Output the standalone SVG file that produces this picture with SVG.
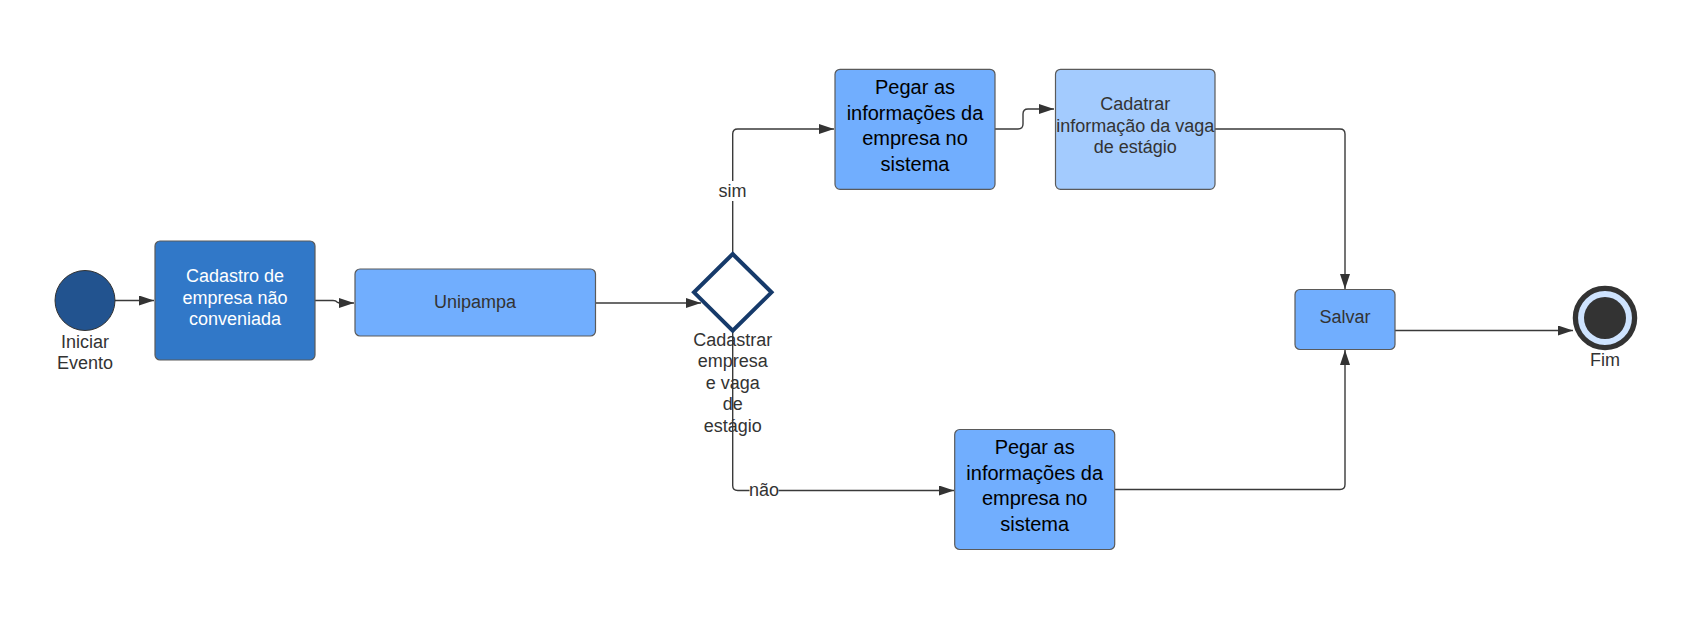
<svg xmlns="http://www.w3.org/2000/svg" width="1707" height="632" viewBox="0 0 1707 632">
<style>
.box{stroke:#5a5a5a;stroke-width:1.2}
.dark{fill:#3178C8}
.mid{fill:#71AEFE}
.light{fill:#A3CBFE}
.t{font-family:"Liberation Sans",Arial,sans-serif;font-size:18px;fill:#333;text-anchor:middle}
.tw{fill:#fff}
.tb{font-size:20px;fill:#000}
.ln{fill:none;stroke:#3a3a3a;stroke-width:1.4}
.lab{fill:#fff}
</style>
<defs>
<marker id="ah" markerUnits="userSpaceOnUse" markerWidth="16" markerHeight="12" refX="15" refY="5" orient="auto">
<path d="M0,0 L15,5 L0,10 z" fill="#333"/>
</marker>
</defs>
<rect width="1707" height="632" fill="#fff"/>
<g id="connectors">
<path class="ln" d="M115,300.5 H154" marker-end="url(#ah)"/>
<path class="ln" d="M315,300.5 H333 Q336,300.5 337,302 Q338,303 341,303 H354" marker-end="url(#ah)"/>
<path class="ln" d="M595.5,303 H701" marker-end="url(#ah)"/>
<path class="ln" d="M732.7,254 V134 Q732.7,129 737.7,129 H834" marker-end="url(#ah)"/>
<path class="ln" d="M732.7,330.7 V485.5 Q732.7,490.5 737.7,490.5 H954" marker-end="url(#ah)"/>
<path class="ln" d="M995,129 H1018 Q1023,129 1023,124 V114 Q1023,109 1028,109 H1054" marker-end="url(#ah)"/>
<path class="ln" d="M1215,129 H1340 Q1345,129 1345,134 V289" marker-end="url(#ah)"/>
<path class="ln" d="M1114.7,489.5 H1340 Q1345,489.5 1345,484.5 V350" marker-end="url(#ah)"/>
<path class="ln" d="M1395,330.5 H1573" marker-end="url(#ah)"/>
<rect class="lab" x="716" y="181" width="33" height="20"/>
<text class="t" x="732.5" y="197">sim</text>
<rect class="lab" x="749.5" y="482" width="29" height="16"/>
<text class="t" x="764" y="496">não</text>
</g>
<g id="start">
<circle cx="85" cy="300.5" r="30" fill="#22538F" stroke="#333" stroke-width="1"/>
<text class="t" x="85" y="347.5">Iniciar</text>
<text class="t" x="85" y="369">Evento</text>
</g>
<g id="cadastro">
<rect class="box dark" x="155" y="241" width="160" height="119" rx="5"/>
<text class="t tw" x="235" y="282">Cadastro de</text>
<text class="t tw" x="235" y="303.5">empresa não</text>
<text class="t tw" x="235" y="325">conveniada</text>
</g>
<g id="unipampa">
<rect class="box mid" x="355" y="269" width="240.5" height="67" rx="5"/>
<text class="t" x="475" y="308">Unipampa</text>
</g>
<g id="gateway">
<polygon points="732.7,254 771.5,292.3 732.7,330.7 694,292.3" fill="#fff" stroke="#163A6A" stroke-width="4"/>
<text class="t" x="732.7" y="345.5">Cadastrar</text>
<text class="t" x="732.7" y="367">empresa</text>
<text class="t" x="732.7" y="388.8">e vaga</text>
<text class="t" x="732.7" y="410.4">de</text>
<text class="t" x="732.7" y="432">estágio</text>
</g>
<g id="pegar1">
<rect class="box mid" x="835" y="69.3" width="160" height="120" rx="5"/>
<text class="t tb" x="915" y="94">Pegar as</text>
<text class="t tb" x="915" y="119.5">informações da</text>
<text class="t tb" x="915" y="145">empresa no</text>
<text class="t tb" x="915" y="170.5">sistema</text>
</g>
<g id="cadatrar">
<rect class="box light" x="1055.5" y="69.3" width="159.5" height="120" rx="5"/>
<text class="t" x="1135.2" y="110">Cadatrar</text>
<text class="t" x="1135.2" y="131.6">informação da vaga</text>
<text class="t" x="1135.2" y="153.2">de estágio</text>
</g>
<g id="pegar2">
<rect class="box mid" x="954.7" y="429.5" width="160" height="120" rx="5"/>
<text class="t tb" x="1034.7" y="454">Pegar as</text>
<text class="t tb" x="1034.7" y="479.5">informações da</text>
<text class="t tb" x="1034.7" y="505">empresa no</text>
<text class="t tb" x="1034.7" y="530.5">sistema</text>
</g>
<g id="salvar">
<rect class="box mid" x="1295" y="289.5" width="100" height="60" rx="5"/>
<text class="t" x="1345" y="323">Salvar</text>
</g>
<g id="fim">
<circle cx="1605" cy="318" r="29.6" fill="#CFE4FF" stroke="#333" stroke-width="5.3"/>
<circle cx="1605" cy="318" r="21" fill="#333"/>
<text class="t" x="1605" y="365.5">Fim</text>
</g>
</svg>
